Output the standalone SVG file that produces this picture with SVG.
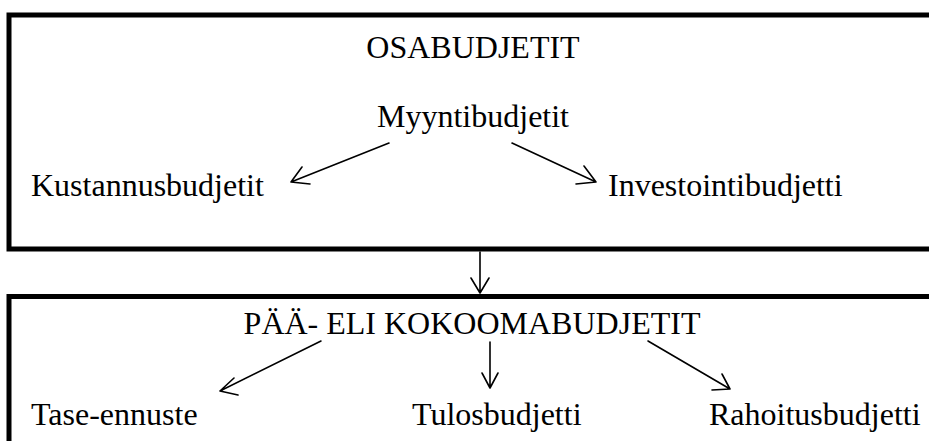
<svg xmlns="http://www.w3.org/2000/svg" width="929" height="441" viewBox="0 0 929 441">
  <style>
    .frame { fill: none; stroke: #000; stroke-width: 5; }
    .label { font-family: "Liberation Serif", "Times New Roman", serif; font-size: 32px; fill: #000; }
    .mid { text-anchor: middle; }
    .link { fill: none; stroke: #000; stroke-width: 1.6; stroke-linecap: round; stroke-linejoin: round; }
  </style>
  <rect width="929" height="441" fill="#fff"/>

  <!-- upper box: partial budgets -->
  <g id="osabudjetit">
    <path class="frame" d="M940 15 H9 V249 H940"/>
    <text class="label mid" x="473" y="58">OSABUDJETIT</text>
  </g>
  <g id="myyntibudjetit">
    <text class="label mid" x="473" y="127">Myyntibudjetit</text>
  </g>
  <g id="kustannusbudjetit">
    <text class="label" x="31" y="196">Kustannusbudjetit</text>
  </g>
  <g id="investointibudjetti">
    <text class="label" x="608" y="196">Investointibudjetti</text>
  </g>

  <!-- lower box: master budgets -->
  <g id="kokoomabudjetit">
    <path class="frame" d="M940 296.5 H9 V460"/>
    <text class="label mid" x="472" y="334">PÄÄ- ELI KOKOOMABUDJETIT</text>
  </g>
  <g id="tase-ennuste">
    <text class="label" x="31" y="425">Tase-ennuste</text>
  </g>
  <g id="tulosbudjetti">
    <text class="label" x="412" y="425">Tulosbudjetti</text>
  </g>
  <g id="rahoitusbudjetti">
    <text class="label" x="709" y="425">Rahoitusbudjetti</text>
  </g>

  <!-- connectors -->
  <g id="connectors">
    <path class="link" d="M389 143 L291 182 M302 167 L291 182 L310 184"/>
    <path class="link" d="M512 143 L596 182 M584 166 L596 182 L576 184"/>
    <path class="link" d="M480 252 V293 M471 278 L480 293 L489 278"/>
    <path class="link" d="M321 341 L220 391 M234 378 L220 391 L238 395"/>
    <path class="link" d="M490 342 V388 M482 373 L490 388 L498 373"/>
    <path class="link" d="M648 341 L730 389 M722 374 L730 389 L712 390"/>
  </g>
</svg>
